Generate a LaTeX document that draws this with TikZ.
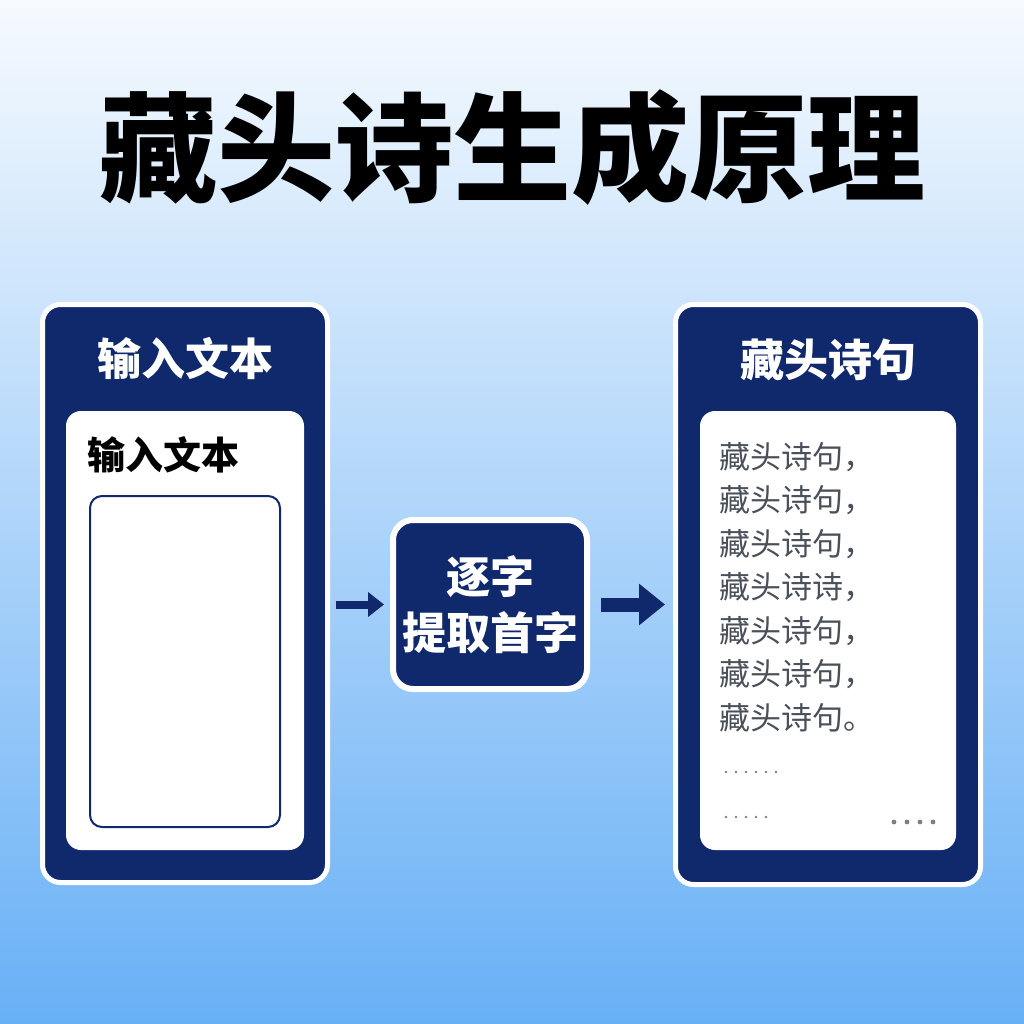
\documentclass[tikz,border=0pt]{standalone}
\usepackage{fontspec}
\setmainfont{Noto Sans CJK SC}
\usetikzlibrary{arrows.meta}
\definecolor{navy}{HTML}{10296C}
\definecolor{bgtop}{HTML}{F6FAFE}
\definecolor{bgmid}{HTML}{BFDDF9}
\definecolor{bgbot}{HTML}{68B0F6}
\definecolor{poem}{HTML}{4A505A}
\definecolor{dotc}{HTML}{7A8088}
\tikzset{
  panel/.style={draw=white, line width=5pt, fill=navy, rounded corners=18pt, inner sep=0pt},
  whitebox/.style={fill=white, rounded corners=15pt, inner sep=0pt},
  hdr/.style={text=white, font=\fontsize{44}{50}\selectfont\bfseries, inner sep=0pt},
  poemline/.style={anchor=west, text=poem, font=\fontsize{31}{36}\selectfont, inner sep=0pt},
  arr/.style={draw=navy, -{Triangle[length=16pt,width=24pt]}, line width=8pt},
  bigarr/.style={draw=navy, -{Triangle[length=26pt,width=40pt]}, line width=14pt},
}
\begin{document}
\begin{tikzpicture}[x=1pt,y=-1pt]
\useasboundingbox (0,0) rectangle (1024,1024);
\shade[top color=bgtop, middle color=bgmid, bottom color=bgbot] (0,0) rectangle (1024,1024);

\node[font=\fontsize{118}{130}\selectfont\bfseries, inner sep=0pt] (title) at (512,148) {藏头诗生成原理};

% left panel
\node[panel, minimum width=285pt, minimum height=578pt] (L) at (185,593.5) {};
\node[hdr] (Lh) at (185,358) {输入文本};
\node[whitebox, minimum width=238pt, minimum height=439pt] (Lw) at (185,630.5) {};
\node[anchor=west, font=\fontsize{38}{44}\selectfont\bfseries, inner sep=0pt] (Lt) at (87,455) {输入文本};
\node[draw=navy, line width=2pt, rounded corners=12pt, minimum width=190pt, minimum height=331pt, inner sep=0pt] (Lbox) at (185,661.5) {};

% middle box
\node[panel, line width=6pt, rounded corners=20pt, minimum width=194pt, minimum height=169pt, align=center,
      text=white, font=\fontsize{44}{56}\selectfont\bfseries] (M) at (490,604.5) {逐字\\提取首字};

% right panel
\node[panel, minimum width=305pt, minimum height=580pt] (R) at (828,594.5) {};
\node[hdr] (Rh) at (828,360) {藏头诗句};
\node[whitebox, minimum width=256pt, minimum height=439pt] (Rw) at (828,630.5) {};
\node[poemline] (p1) at (719,457) {藏头诗句，};
\node[poemline] (p2) at (719,500.5) {藏头诗句，};
\node[poemline] (p3) at (719,544) {藏头诗句，};
\node[poemline] (p4) at (719,587.5) {藏头诗诗，};
\node[poemline] (p5) at (719,631) {藏头诗句，};
\node[poemline] (p6) at (719,674.5) {藏头诗句，};
\node[poemline] (p7) at (719,718) {藏头诗句。};
\foreach \i in {0,...,5} \fill[dotc] (726+10*\i,772) circle (1.4pt);
\foreach \i in {0,...,4} \fill[dotc] (726+10*\i,817) circle (1.4pt);
\foreach \i in {0,...,3} \fill[dotc] (894+13*\i,822) circle (2.4pt);

% arrows
\draw[arr, shorten <=5.5pt, shorten >=6pt] (M.west -| L.east) -- (M.west);
\draw[bigarr, shorten <=11pt, shorten >=8pt] (M.east) -- (M.east -| R.west);
\end{tikzpicture}
\end{document}
